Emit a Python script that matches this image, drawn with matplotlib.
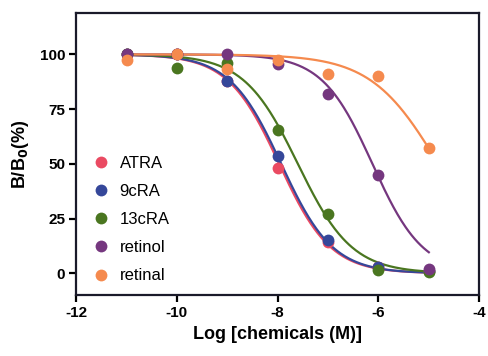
import numpy as np
import matplotlib
matplotlib.use("Agg")
import matplotlib.pyplot as plt
from matplotlib.lines import Line2D

plt.rcParams['font.family'] = ['Liberation Sans', 'DejaVu Sans']
plt.rcParams['axes.unicode_minus'] = False

log_conc = [-11, -10, -9, -8, -7, -6, -5]
names = ["ATRA", "9cRA", "13cRA", "retinol", "retinal"]
atra = [100, 100, 88, 48, 14.5, 3, 1]
cra9 = [100, 100, 88, 53.5, 15, 3, 1]
cra13 = [100, 93.6, 96, 65.5, 27, 1.5, 0.5]
retinol = [100, 100, 100, 95.5, 82, 45, 2]
retinal = [97.5, 100, 93.5, 97.4, 91, 90, 57]
series = [atra, cra9, cra13, retinol, retinal]

# fitted sigmoidal dose-response parameters (logIC50, Hill slope)
log_ic50 = [-7.97, -7.93, -7.6, -6.12, -4.81]
hill = [0.85, 0.85, 0.81, 0.87, 0.648]

colors = ["#ea4a62", "#35479a", "#4a7620", "#75377f", "#f58a4e"]

fig = plt.figure(figsize=(4.88, 3.56), dpi=100)
ax = fig.add_axes([0.156, 0.171, 0.826, 0.793])

xs = np.linspace(-11, -5, 300)
for vals, c, h, col in zip(series, log_ic50, hill, colors):
    curve = 100.0 / (1 + 10 ** ((xs - c) * h))
    ax.plot(xs, curve, color=col, lw=1.6, zorder=2)
for vals, col in zip(series, colors):
    ax.plot(log_conc, vals, 'o', color=col, ms=8.5, mec='none', zorder=3)

ax.set_xlim(-12, -4)
ax.set_ylim(-10, 119)
ax.set_xticks([-12, -10, -8, -6, -4])
ax.set_yticks([0, 25, 50, 75, 100])
for s in ax.spines.values():
    s.set_linewidth(1.6)
    s.set_color("#1a1a2a")
ax.tick_params(direction='out', length=5, width=1.6, labelsize=11, pad=3)
for lab in ax.get_xticklabels() + ax.get_yticklabels():
    lab.set_fontweight('bold')
ax.set_xlabel("Log [chemicals (M)]", fontsize=13, fontweight='bold', labelpad=4)
ax.set_ylabel("B/B$_\\mathbf{0}$(%)", fontsize=13, fontweight='bold', labelpad=6)

handles = [Line2D([], [], ls='none', marker='o', color=col, ms=8.5, mec='none') for col in colors]
ax.legend(handles, names, loc='lower left', bbox_to_anchor=(0.017, 0.0), frameon=False,
          fontsize=12, handlelength=0.8, handletextpad=0.7, labelspacing=0.79,
          borderaxespad=0.3)

fig.savefig("out.png", dpi=100)
